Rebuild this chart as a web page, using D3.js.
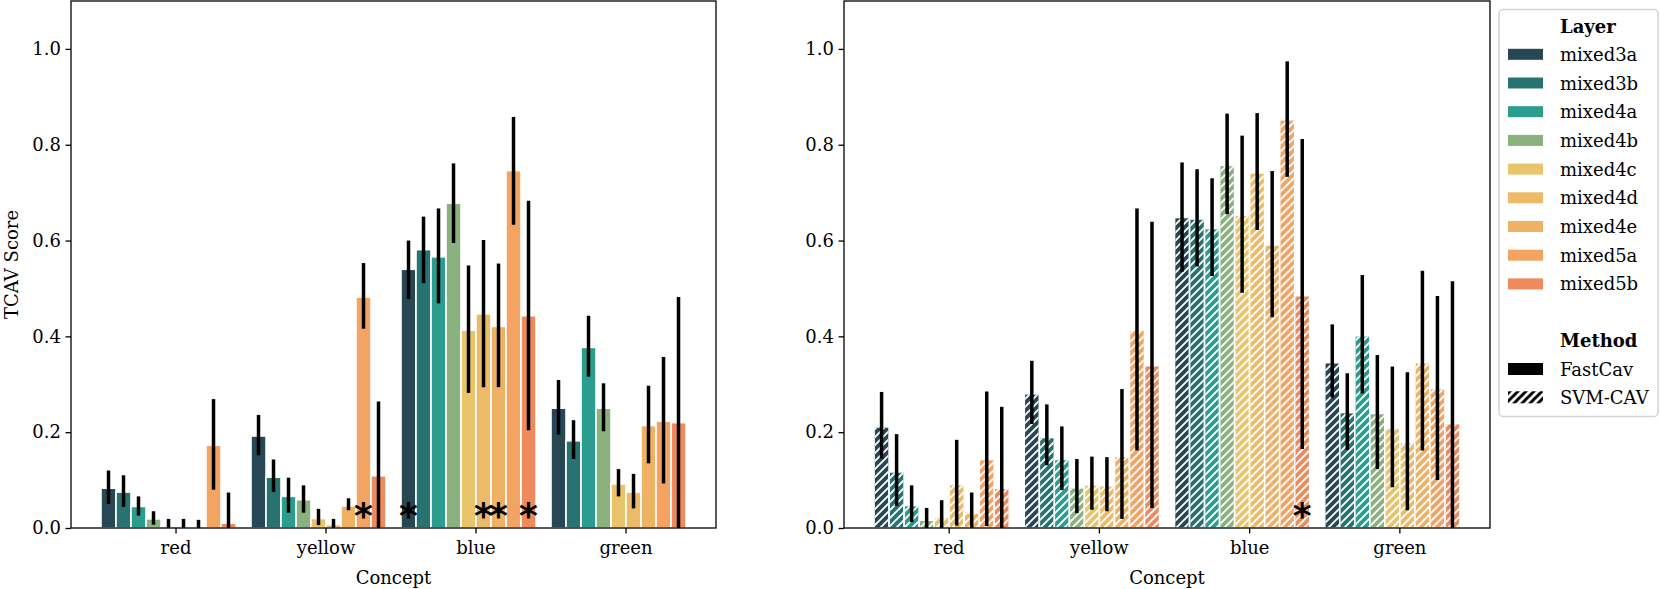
<!DOCTYPE html>
<html>
<head>
<meta charset="utf-8">
<script src="https://cdn.jsdelivr.net/npm/d3@7"></script>
<style>
body { margin: 0; background: #fff; }
svg { display: block; font-family: "DejaVu Serif", serif; }
</style>
</head>
<body>
<div id="chart"></div>
<script>
var concepts = ['red', 'yellow', 'blue', 'green'];
var layers = ['mixed3a', 'mixed3b', 'mixed4a', 'mixed4b', 'mixed4c', 'mixed4d', 'mixed4e', 'mixed5a', 'mixed5b'];
var layerColors = ['#264753', '#287371', '#2a9d8e', '#8bb17e', '#e9c46a', '#edbb68', '#efb265', '#f3a462', '#ee8a5c'];
var yTicks = [0, 0.2, 0.4, 0.6, 0.8, 1.0];

// FastCav scores, one row per concept, one value per layer
var fastMean = [
    [0.083, 0.075, 0.045, 0.019, 0.004, 0.004, 0.002, 0.173, 0.010],
    [0.192, 0.106, 0.066, 0.059, 0.020, 0.007, 0.046, 0.482, 0.109],
    [0.540, 0.581, 0.566, 0.678, 0.413, 0.447, 0.421, 0.746, 0.443],
    [0.250, 0.182, 0.377, 0.250, 0.092, 0.075, 0.214, 0.223, 0.220]
];
var fastLo = [
    [0.050, 0.044, 0.026, 0.007, 0.000, 0.000, 0.000, 0.080, -0.05],
    [0.152, 0.075, 0.032, 0.032, 0.006, 0.000, 0.037, 0.416, -0.05],
    [0.478, 0.511, 0.469, 0.595, 0.282, 0.294, 0.294, 0.633, 0.204],
    [0.195, 0.144, 0.316, 0.202, 0.066, 0.041, 0.135, 0.093, -0.05]
];
var fastHi = [
    [0.120, 0.110, 0.066, 0.035, 0.019, 0.019, 0.017, 0.269, 0.074],
    [0.236, 0.143, 0.105, 0.089, 0.040, 0.019, 0.062, 0.553, 0.264],
    [0.600, 0.650, 0.667, 0.761, 0.548, 0.601, 0.552, 0.858, 0.683],
    [0.309, 0.225, 0.443, 0.302, 0.123, 0.113, 0.297, 0.357, 0.482]
];
var fastStars = [['yellow', 'mixed5a'], ['blue', 'mixed3a'], ['blue', 'mixed4d'], ['blue', 'mixed4e'], ['blue', 'mixed5b']];

// SVM-CAV scores
var svmMean = [
    [0.211, 0.117, 0.047, 0.016, 0.022, 0.091, 0.031, 0.143, 0.083],
    [0.280, 0.189, 0.143, 0.084, 0.090, 0.088, 0.150, 0.413, 0.339],
    [0.648, 0.645, 0.625, 0.757, 0.653, 0.741, 0.591, 0.852, 0.485],
    [0.345, 0.241, 0.401, 0.239, 0.208, 0.178, 0.345, 0.291, 0.218]
];
var svmLo = [
    [0.145, 0.046, 0.012, 0.000, 0.000, 0.005, 0.000, 0.004, -0.05],
    [0.217, 0.131, 0.079, 0.031, 0.038, 0.035, 0.019, 0.162, 0.042],
    [0.535, 0.546, 0.526, 0.655, 0.491, 0.622, 0.440, 0.733, 0.165],
    [0.272, 0.163, 0.281, 0.123, 0.085, 0.037, 0.162, 0.100, -0.02]
];
var svmHi = [
    [0.284, 0.196, 0.089, 0.042, 0.058, 0.184, 0.074, 0.285, 0.253],
    [0.349, 0.258, 0.212, 0.144, 0.149, 0.148, 0.290, 0.667, 0.639],
    [0.763, 0.749, 0.730, 0.865, 0.819, 0.866, 0.745, 0.974, 0.812],
    [0.425, 0.323, 0.528, 0.361, 0.337, 0.325, 0.537, 0.484, 0.515]
];
var svmStars = [['blue', 'mixed5b']];

var methods = ['FastCav', 'SVM-CAV'];

var W = 1660, H = 589;
var plotTop = 1, plotBottom = 528;

var svg = d3.select('#chart').append('svg')
    .attr('width', W)
    .attr('height', H);

var defs = svg.append('defs');

var hatch = defs.append('pattern')
    .attr('id', 'hatch')
    .attr('patternUnits', 'userSpaceOnUse')
    .attr('width', 8)
    .attr('height', 8);
hatch.append('path')
    .attr('d', 'M-2,2 L2,-2 M0,8 L8,0 M6,10 L10,6')
    .attr('stroke', '#fff')
    .attr('stroke-width', 1.8);

var hatchBlack = defs.append('pattern')
    .attr('id', 'hatch-black')
    .attr('patternUnits', 'userSpaceOnUse')
    .attr('width', 8)
    .attr('height', 8);
hatchBlack.append('path')
    .attr('d', 'M-2,2 L2,-2 M0,8 L8,0 M6,10 L10,6')
    .attr('stroke', '#000')
    .attr('stroke-width', 3);

var y = d3.scaleLinear()
    .domain([0, 1.1])
    .range([plotBottom, plotTop]);

function drawPanel(opts) {
    var g = svg.append('g');
    var x0 = d3.scaleBand()
        .domain(concepts)
        .range([opts.left, opts.right])
        .paddingInner(0)
        .paddingOuter(0.15)
        .align(0.667);
    var bw = x0.bandwidth();
    var x1 = d3.scaleBand()
        .domain(layers)
        .range([0, bw * 0.9]);

    var clipId = 'clip-' + opts.id;
    defs.append('clipPath').attr('id', clipId)
        .append('rect')
        .attr('x', opts.left).attr('y', plotTop)
        .attr('width', opts.right - opts.left).attr('height', plotBottom - plotTop);

    var rows = [];
    concepts.forEach(function(c, ci) {
        layers.forEach(function(l, li) {
            rows.push({
                concept: c, layer: l, li: li,
                v: opts.mean[ci][li], lo: opts.lo[ci][li], hi: opts.hi[ci][li]
            });
        });
    });

    var plot = g.append('g').attr('clip-path', 'url(#' + clipId + ')');

    plot.selectAll('rect.bar')
        .data(rows)
        .enter()
        .append('rect')
        .attr('class', 'bar')
        .attr('x', function(d) { return x0(d.concept) + x1(d.layer); })
        .attr('y', function(d) { return y(d.v); })
        .attr('width', x1.bandwidth())
        .attr('height', function(d) { return y(0) - y(d.v); })
        .attr('fill', function(d) { return layerColors[d.li]; })
        .attr('stroke', '#fff')
        .attr('stroke-width', 1.6);

    if (opts.hatched) {
        plot.selectAll('rect.hatch')
            .data(rows)
            .enter()
            .append('rect')
            .attr('class', 'hatch')
            .attr('x', function(d) { return x0(d.concept) + x1(d.layer) + 0.8; })
            .attr('y', function(d) { return y(d.v) + 0.8; })
            .attr('width', x1.bandwidth() - 1.6)
            .attr('height', function(d) { return Math.max(0, y(0) - y(d.v) - 0.8); })
            .attr('fill', 'url(#hatch)');
    }

    plot.selectAll('line.err')
        .data(rows)
        .enter()
        .append('line')
        .attr('class', 'err')
        .attr('x1', function(d) { return x0(d.concept) + x1(d.layer) + x1.bandwidth() / 2; })
        .attr('x2', function(d) { return x0(d.concept) + x1(d.layer) + x1.bandwidth() / 2; })
        .attr('y1', function(d) { return y(d.lo); })
        .attr('y2', function(d) { return y(d.hi); })
        .attr('stroke', '#000')
        .attr('stroke-width', 3.5);

    g.selectAll('text.star')
        .data(opts.stars)
        .enter()
        .append('text')
        .attr('class', 'star')
        .attr('x', function(d) { return x0(d[0]) + x1(d[1]) + x1.bandwidth() / 2; })
        .attr('y', y(0.045) + 22)
        .attr('text-anchor', 'middle')
        .style('font-family', '"DejaVu Sans", sans-serif')
        .style('font-weight', 'bold')
        .style('font-size', '36px')
        .text('*');

    // spines
    g.append('rect')
        .attr('x', opts.left).attr('y', plotTop)
        .attr('width', opts.right - opts.left).attr('height', plotBottom - plotTop)
        .attr('fill', 'none')
        .attr('stroke', '#000')
        .attr('stroke-width', 1.3);

    var yAxis = g.append('g')
        .attr('transform', 'translate(' + opts.left + ',0)')
        .call(d3.axisLeft(y).tickValues(yTicks).tickFormat(d3.format('.1f')).tickSize(5.5).tickPadding(4.5));
    var xAxis = g.append('g')
        .attr('transform', 'translate(0,' + plotBottom + ')')
        .call(d3.axisBottom(x0).tickSize(5.5).tickPadding(8));
    [yAxis, xAxis].forEach(function(a) {
        a.select('.domain').remove();
        a.selectAll('line').attr('stroke', '#000').attr('stroke-width', 1.3);
        a.selectAll('text')
            .attr('fill', '#000')
            .style('font-family', '"DejaVu Serif", serif')
            .style('font-size', '18px');
    });

    g.append('text')
        .attr('x', (opts.left + opts.right) / 2)
        .attr('y', 584)
        .attr('text-anchor', 'middle')
        .style('font-size', '18px')
        .text('Concept');

    if (opts.ylabel) {
        g.append('text')
            .attr('transform', 'translate(18,' + ((plotTop + plotBottom) / 2) + ') rotate(-90)')
            .attr('text-anchor', 'middle')
            .style('font-size', '18px')
            .text(opts.ylabel);
    }
}

drawPanel({ id: 'fast', left: 71, right: 716, mean: fastMean, lo: fastLo, hi: fastHi, stars: fastStars, hatched: false, ylabel: 'TCAV Score' });
drawPanel({ id: 'svm', left: 844, right: 1490, mean: svmMean, lo: svmLo, hi: svmHi, stars: svmStars, hatched: true });

// legend
var lg = svg.append('g');
lg.append('rect')
    .attr('x', 1499).attr('y', 9.5)
    .attr('width', 159).attr('height', 407)
    .attr('rx', 4)
    .attr('fill', '#fff')
    .attr('stroke', '#d4d4d4')
    .attr('stroke-width', 1.5);

var textX = 1560, swX = 1508, swW = 35;
lg.append('text')
    .attr('x', textX).attr('y', 26 + 6.5)
    .style('font-size', '18px').style('font-weight', 'bold')
    .text('Layer');

var rowY = d3.scaleLinear().domain([0, 1]).range([54.3, 83]);
var items = lg.selectAll('g.item')
    .data(layers)
    .enter()
    .append('g')
    .attr('class', 'item')
    .attr('transform', function(d, i) { return 'translate(0,' + rowY(i) + ')'; });
items.append('rect')
    .attr('x', swX).attr('y', -5.5)
    .attr('width', swW).attr('height', 11)
    .attr('fill', function(d, i) { return layerColors[i]; });
items.append('text')
    .attr('x', textX).attr('y', 6.5)
    .style('font-size', '18px')
    .text(function(d) { return d; });

lg.append('text')
    .attr('x', textX).attr('y', 340.7 + 6.5)
    .style('font-size', '18px').style('font-weight', 'bold')
    .text('Method');

var methodY = [369, 397.3];
var mItems = lg.selectAll('g.mitem')
    .data(methods)
    .enter()
    .append('g')
    .attr('class', 'mitem')
    .attr('transform', function(d, i) { return 'translate(0,' + methodY[i] + ')'; });
mItems.append('rect')
    .attr('x', swX).attr('y', -6)
    .attr('width', swW).attr('height', 12)
    .attr('fill', function(d, i) { return i === 0 ? '#000' : 'url(#hatch-black)'; });
mItems.append('text')
    .attr('x', textX).attr('y', 6.5)
    .style('font-size', '18px')
    .text(function(d) { return d; });
</script>
</body>
</html>
